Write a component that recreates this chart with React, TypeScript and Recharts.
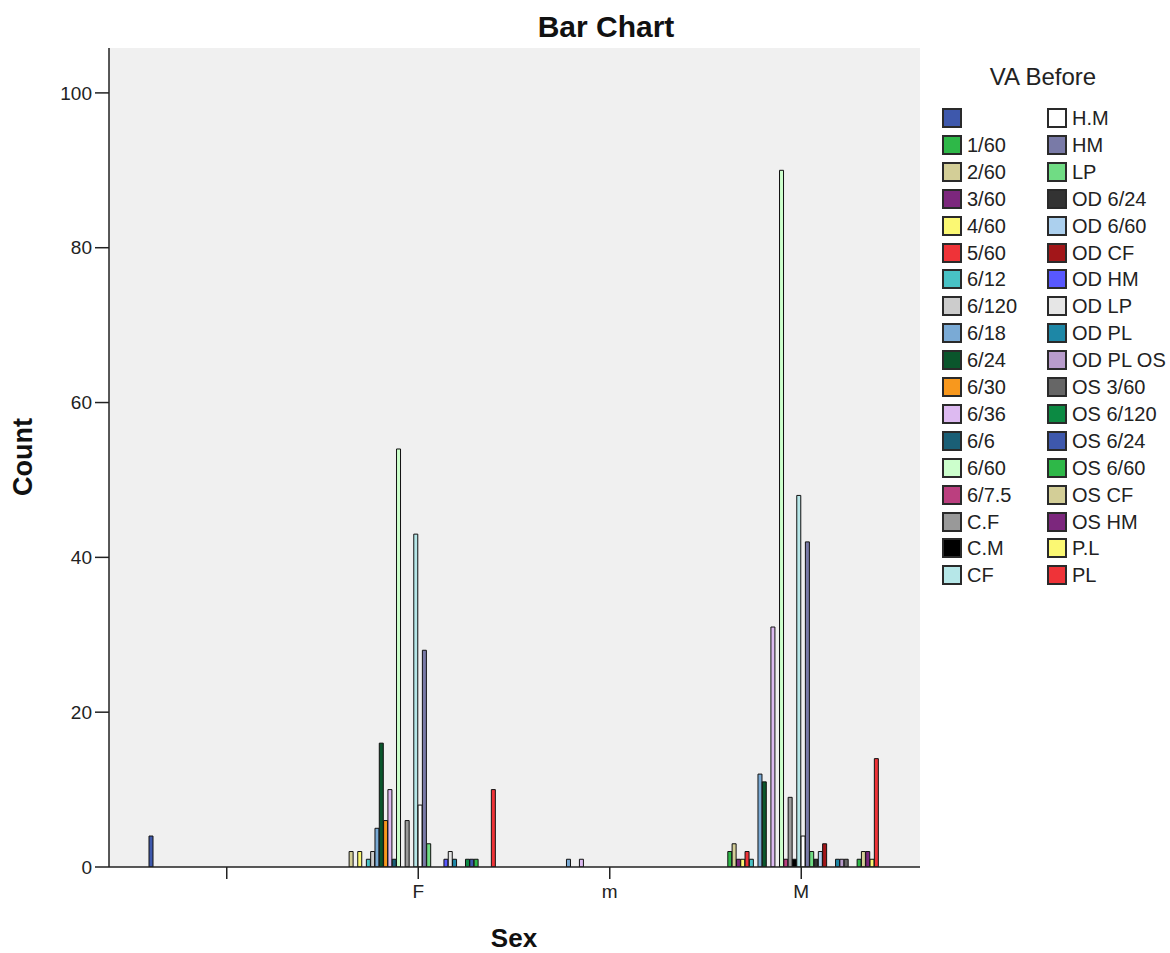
import React from "react";
import { BarChart, Bar, XAxis, YAxis, CartesianGrid } from "recharts";

/* Sex categories on the x axis (first one is a blank entry in the source data) */
const CATEGORIES = ["", "F", "m", "M"];

/* VA Before levels, in legend order */
const SERIES = [
  "", "1/60", "2/60", "3/60", "4/60", "5/60", "6/12", "6/120", "6/18",
  "6/24", "6/30", "6/36", "6/6", "6/60", "6/7.5", "C.F", "C.M", "CF",
  "H.M", "HM", "LP", "OD 6/24", "OD 6/60", "OD CF", "OD HM", "OD LP",
  "OD PL", "OD PL OS", "OS 3/60", "OS 6/120", "OS 6/24", "OS 6/60",
  "OS CF", "OS HM", "P.L", "PL",
];

/* SPSS default fill cycle */
const COLORS = [
  "#3E58AC", "#2EB848", "#D3CE97", "#7C277D", "#FBF873", "#EF3338",
  "#48C2C5", "#CCCCCC", "#7AAAD5", "#0A562C", "#F8981D", "#DDBAF1",
  "#1A5F76", "#CCFFCC", "#BB3F7F", "#999999", "#000000", "#B6E7E8",
  "#FFFFFF", "#797AA7", "#70DC84", "#333333", "#ACD0EE", "#A21619",
  "#5858FF", "#E6E6E6", "#1D87A6", "#B89CCB", "#666666", "#0C8A43",
  "#3E58AC", "#2EB848", "#D3CE97", "#7C277D", "#FBF873", "#EF3338",
];

// counts per series, one array per sex category
const BLANK_COUNTS = [
  4, 0, 0, 0, 0, 0, 0, 0, 0, 0, 0, 0, 0, 0, 0, 0, 0, 0,
  0, 0, 0, 0, 0, 0, 0, 0, 0, 0, 0, 0, 0, 0, 0, 0, 0, 0,
];
const F_COUNTS = [
  0, 0, 2, 0, 2, 0, 1, 2, 5, 16, 6, 10, 1, 54, 0, 6, 0, 43,
  8, 28, 3, 0, 0, 0, 1, 2, 1, 0, 0, 1, 1, 1, 0, 0, 0, 10,
];
const LOWER_M_COUNTS = [
  0, 0, 0, 0, 0, 0, 0, 0, 1, 0, 0, 1, 0, 0, 0, 0, 0, 0,
  0, 0, 0, 0, 0, 0, 0, 0, 0, 0, 0, 0, 0, 0, 0, 0, 0, 0,
];
const M_COUNTS = [
  0, 2, 3, 1, 1, 2, 1, 0, 12, 11, 0, 31, 0, 90, 1, 9, 1, 48,
  4, 42, 2, 1, 2, 3, 0, 0, 1, 1, 1, 0, 0, 1, 2, 2, 1, 14,
];

const Y_TICKS = [0, 20, 40, 60, 80, 100];

const COUNTS = [BLANK_COUNTS, F_COUNTS, LOWER_M_COUNTS, M_COUNTS];

const data = CATEGORIES.map((sex, ci) => {
  const row: Record<string, string | number | null> = { sex };
  SERIES.forEach((_, si) => {
    const v = COUNTS[ci][si];
    row[`s${si}`] = v > 0 ? v : null;
  });
  return row;
});

const FONT = "'Liberation Sans', Arial, sans-serif";
const INK = "#222";

function VaLegend() {
  const rows = 18;
  return (
    <div style={{ position: "absolute", left: 935, top: 0, width: 235, height: 953, fontFamily: FONT, color: INK }}>
      <div style={{ position: "absolute", left: 0, width: 216, top: 62, textAlign: "center", fontSize: 24, lineHeight: "30px" }}>
        VA Before
      </div>
      {SERIES.map((name, i) => {
        const col = Math.floor(i / rows);
        const row = i % rows;
        const cy = 118 + row * 26.9;
        const left = col === 0 ? 7 : 112;
        return (
          <div key={i} style={{ position: "absolute", left, top: cy - 10, height: 20, display: "flex", alignItems: "center" }}>
            <div style={{ width: 20, height: 20, boxSizing: "border-box", border: "2px solid #2a2a2a", background: COLORS[i] }} />
            <span style={{ marginLeft: 5, fontSize: 20, lineHeight: "20px", whiteSpace: "nowrap" }}>{name}</span>
          </div>
        );
      })}
    </div>
  );
}

export default function App() {
  return (
    <div style={{ position: "absolute", left: 0, top: 0, width: 1170, height: 953, background: "#fff" }}>
      <BarChart
        width={1170}
        height={953}
        data={data}
        margin={{ top: 48, right: 250, left: 49, bottom: 46 }}
        barGap={0.31}
        barCategoryGap={18}
      >
        <text x={606} y={37} textAnchor="middle" fontFamily={FONT} fontWeight="bold" fontSize={30} fill="#111">
          Bar Chart
        </text>
        <text
          x={23}
          y={457}
          transform="rotate(-90 23 457)"
          textAnchor="middle"
          dominantBaseline="central"
          fontFamily={FONT}
          fontWeight="bold"
          fontSize={27}
          fill="#111"
        >
          Count
        </text>
        <text x={514} y={947} textAnchor="middle" fontFamily={FONT} fontWeight="bold" fontSize={26} fill="#111">
          Sex
        </text>
        <CartesianGrid fill="#F0F0F0" horizontal={false} vertical={false} stroke="none" />
        <XAxis
          dataKey="sex"
          interval={0}
          padding={{ left: 22, right: 23 }}
          tickSize={12}
          tickMargin={6}
          height={40}
          axisLine={{ stroke: INK, strokeWidth: 1.5 }}
          tickLine={{ stroke: INK, strokeWidth: 1.5 }}
          tick={{ fontSize: 19, fill: INK, fontFamily: FONT }}
        />
        <XAxis
          xAxisId="top"
          orientation="top"
          dataKey="sex"
          height={0}
          tick={false}
          tickLine={false}
          axisLine={{ stroke: "#555", strokeWidth: 2 }}
        />
        <YAxis
          domain={[0, 105.8]}
          ticks={Y_TICKS}
          width={60}
          tickSize={14}
          tickMargin={3}
          axisLine={{ stroke: INK, strokeWidth: 1.5 }}
          tickLine={{ stroke: INK, strokeWidth: 1.5 }}
          tick={{ fontSize: 19, fill: INK, fontFamily: FONT }}
          allowDataOverflow
        />
        <YAxis
          yAxisId="right"
          orientation="right"
          width={0}
          tick={false}
          tickLine={false}
          axisLine={{ stroke: "#444", strokeWidth: 1.5 }}
        />
        {SERIES.map((name, i) => (
          <Bar
            key={i}
            dataKey={`s${i}`}
            name={name || " "}
            fill={COLORS[i]}
            stroke="#111"
            strokeWidth={1}
            isAnimationActive={false}
          />
        ))}
      </BarChart>
      <VaLegend />
    </div>
  );
}
